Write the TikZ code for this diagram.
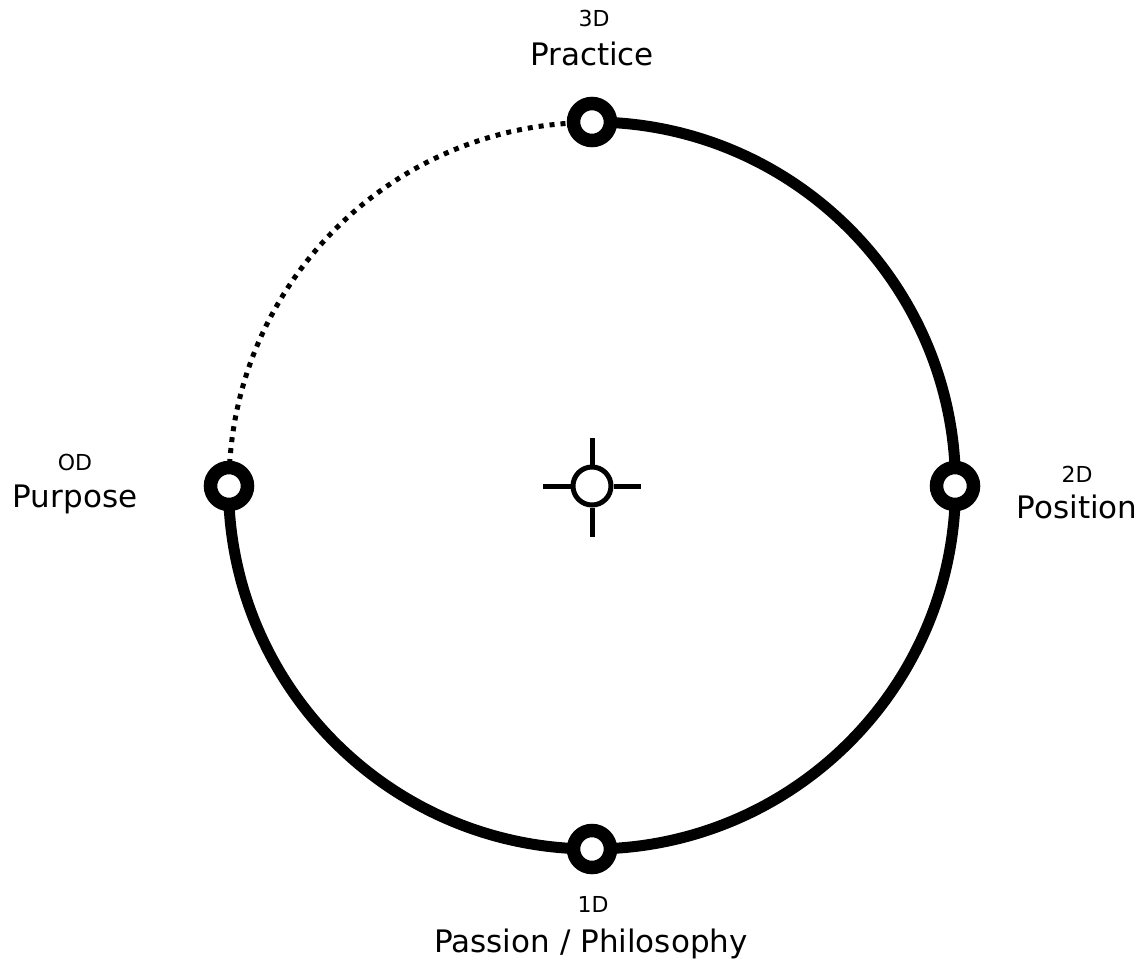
\documentclass[tikz,border=0pt]{standalone}
\usepackage{fontspec}
\setmainfont{DejaVu Sans}
\usetikzlibrary{backgrounds,calc}
\begin{document}
\begin{tikzpicture}[x=1pt,y=-1pt,
  ring/.style={circle,draw=black,fill=white,line width=13.5pt,minimum size=37pt,inner sep=0pt},
  solidarc/.style={line width=11pt},
  dotarc/.style={line width=5pt,dash pattern=on 5pt off 6pt},
  small/.style={font=\fontsize{22}{26}\selectfont,anchor=base,inner sep=0pt},
  big/.style={font=\fontsize{31}{37}\selectfont,anchor=base,inner sep=0pt},
  cross/.style={line width=5pt}]
\useasboundingbox (0,0) rectangle (1147,963);
\coordinate (c) at (592,486);
\node[ring] (top) at ($(c)+(0,-364)$) {};
\node[ring] (right) at ($(c)+(363,0)$) {};
\node[ring] (bottom) at ($(c)+(0,363)$) {};
\node[ring] (left) at ($(c)+(-363,0)$) {};
\begin{scope}[on background layer]
  \draw[solidarc] (top.center) arc[start angle=-90,end angle=180,radius=363.5];
  \draw[dotarc] (left.center) arc[start angle=180,end angle=270,radius=363.5];
\end{scope}
% centre crosshair
\node[circle,draw=black,line width=5pt,minimum size=38pt,inner sep=0pt] (ctr) at (c) {};
\coordinate (cl) at ($(c)+(-49,0)$);
\coordinate (cr) at ($(c)+(49,0)$);
\coordinate (ct) at ($(c)+(0,-48)$);
\coordinate (cb) at ($(c)+(0,51)$);
\draw[cross] (cl) -- (ctr.west);
\draw[cross] (ctr.east) -- (cr);
\draw[cross] (ct) -- (ctr.north);
\draw[cross] (ctr.south) -- (cb);
% labels
\node[small] (l3d) at (594,27) {3D};
\node[big] (lprac) at (592,66) {Practice};
\node[small] (l0d) at (75,470) {OD};
\node[big] (lpurp) at (75,507) {Purpose};
\node[small] (l2d) at (1077,482) {2D};
\node[big] (lpos) at (1077,518) {Position};
\node[small] (l1d) at (593,912) {1D};
\node[big] (lpass) at (591,952) {Passion / Philosophy};
\end{tikzpicture}
\end{document}
